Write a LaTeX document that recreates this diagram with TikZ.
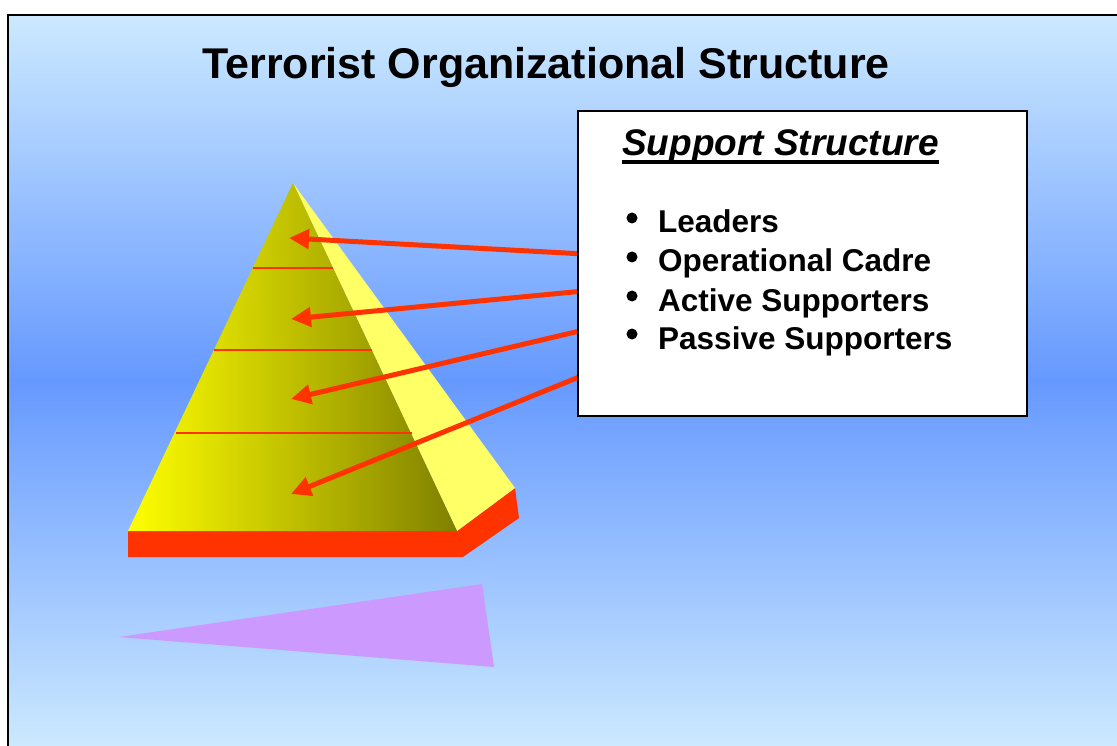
\documentclass[tikz,border=0pt]{standalone}
\usepackage{fontspec}
\setmainfont{Liberation Sans}
\usetikzlibrary{arrows.meta,positioning,calc}

\definecolor{skylight}{HTML}{CCE9FF}
\definecolor{skymid}{HTML}{6699FF}
\definecolor{slabred}{HTML}{FF3300}
\definecolor{sidelight}{HTML}{FFFF66}
\definecolor{wedge}{HTML}{CC99FF}

\begin{document}
\begin{tikzpicture}[x=1pt,y=-1pt,
			ptr/.style={draw=slabred,line width=5pt,-{Triangle[length=20pt,width=19pt]}},
			layer/.style={draw=slabred,line width=1.8pt},
			dot/.style={circle,fill=black,inner sep=0pt,minimum size=11pt},
			item/.style={anchor=base west,inner sep=0pt,font=\fontsize{31.5}{36}\selectfont\bfseries}]
		\useasboundingbox (0,0) rectangle (1117,746);
		% slide background
		\fill[white] (0,0) rectangle (1117,746);
		\shade[top color=skylight,bottom color=skylight,middle color=skymid] (8,15) rectangle (1130,746);
		\draw[black,line width=2pt] (8,760) -- (8,15) -- (1130,15);
		\path 	(546,67) node (title) [font=\fontsize{43}{48}\selectfont\bfseries] {Terrorist Organizational Structure};
		% shadow wedge
		\fill[wedge] (119,637) -- (482,584) -- (494,667) -- cycle;
		% pyramid
		\path 	(293,183) coordinate (apex)
		        (128,531) coordinate (fl)
		        (457,531) coordinate (fr)
		        (515,488) coordinate (br)
		        (128,557) coordinate (sl)
		        (463,557) coordinate (sr)
		        (519,518) coordinate (sb);
		\fill[slabred] (fl) -- (fr) -- (br) -- (sb) -- (sr) -- (sl) -- cycle;
		\fill[sidelight] (apex) -- (br) -- (fr) -- cycle;
		\shade[left color=yellow,right color=olive] (apex) -- (fr) -- (fl) -- cycle;
		\draw[layer] (253,268) -- (333,268);
		\draw[layer] (214,350) -- (372,350);
		\draw[layer] (176,433) -- (412,433);
		% levels
		\path 	(289,238) coordinate (t1)
		        (291,319) coordinate (t2)
		        (291,399) coordinate (t3)
		        (291,494) coordinate (t4)
		        (584,254) coordinate (s1)
		        (584,291) coordinate (s2)
		        (584,330) coordinate (s3)
		        (584,375) coordinate (s4);
		\draw[ptr] (s1) -- (t1);
		\draw[ptr] (s2) -- (t2);
		\draw[ptr] (s3) -- (t3);
		\draw[ptr] (s4) -- (t4);
		% support box
		\path 	(802.5,263.5) node (support) [draw=black,fill=white,line width=2pt,minimum width=449pt,minimum height=305pt] {};
		\path 	(622,156) node (head) [item,font=\fontsize{37}{42}\selectfont\bfseries\itshape] {Support Structure}
		        (658,233) node (lead) [item] {Leaders}
		        (658,272) node (cadre) [item] {Operational Cadre}
		        (658,311) node (active) [item] {Active Supporters}
		        (658,349) node (passive) [item] {Passive Supporters}
		        (632,218) node (b1) [dot] {}
		        (632,257) node (b2) [dot] {}
		        (632,296) node (b3) [dot] {}
		        (632,334) node (b4) [dot] {};
		\draw[black,line width=3.5pt] ($(head.base west)+(0,6)$) -- ($(head.base east)+(0,6)$);
	\end{tikzpicture}
\end{document}
